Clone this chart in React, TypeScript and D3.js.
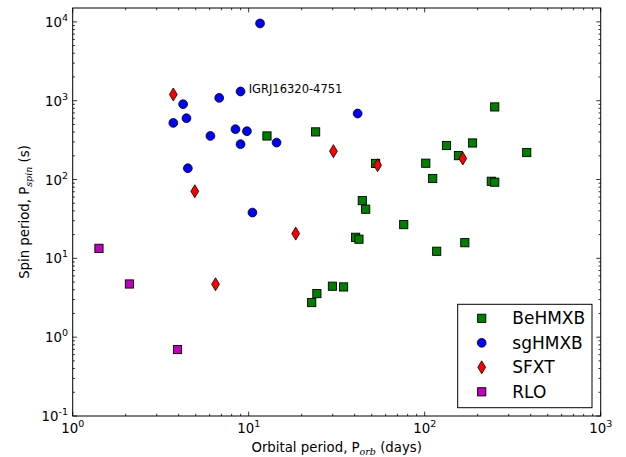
import React from "react";
import * as d3 from "d3";

const beOrb = [12.7, 24.0, 250, 133, 187, 380, 155.5, 52.6, 101.4, 111, 239, 250, 44.2, 46.2, 76, 40.5, 42.3, 117, 169, 29.9, 34.6, 24.4, 22.8];
const beSpin = [357, 402, 834, 270, 291, 220, 201, 160, 161, 103, 95, 92.5, 54, 42, 26.8, 18.5, 17.5, 12.3, 15.8, 4.43, 4.34, 3.57, 2.75];

const sgOrb = [11.6, 4.24, 3.73, 4.43, 6.8, 8.99, 6.06, 8.41, 9.77, 8.99, 14.4, 4.51, 10.5, 41.6];
const sgSpin = [9550, 903, 523, 600, 1086, 1309, 357, 435, 410, 281, 294, 139, 38.1, 688];

const sfOrb = [3.73, 4.94, 30.3, 54.0, 164.6, 18.5, 6.48];
const sfSpin = [1200, 71, 229, 152, 185, 20.6, 4.69];

const rloOrb = [1.41, 2.1, 3.94];
const rloSpin = [13.4, 4.73, 0.697];

const seriesNames = ["BeHMXB", "sgHMXB", "SFXT", "RLO"];
const seriesColors = ["#008000", "#0000ff", "#ff0000", "#bf00bf"];
const seriesShapes = ["square", "circle", "diamond", "square"];

const annotationText = "IGRJ16320-4751";
const annotationX = 10;
const annotationY = 1250;

const xTickExp = [0, 1, 2, 3];
const yTickExp = [-1, 0, 1, 2, 3, 4];

const W = 626;
const H = 457;
const left = 72.7;
const right = 600.7;
const top = 8;
const bottom = 416;

function Marker({ shape, cx, cy, color }: { shape: string; cx: number; cy: number; color: string }) {
  if (shape === "circle") {
    return <circle cx={cx} cy={cy} r={4.4} fill={color} stroke="#000" strokeWidth={0.8} />;
  }
  if (shape === "square") {
    const s = 8.2;
    return <rect x={cx - s / 2} y={cy - s / 2} width={s} height={s} fill={color} stroke="#000" strokeWidth={0.9} />;
  }
  const hw = 3.9;
  const hh = 6.5;
  return (
    <path
      d={`M${cx},${cy - hh}L${cx + hw},${cy}L${cx},${cy + hh}L${cx - hw},${cy}Z`}
      fill={color}
      stroke="#000"
      strokeWidth={0.8}
    />
  );
}

export default function App() {
  const x = d3.scaleLog().domain([1, 1000]).range([left, right]);
  const y = d3.scaleLog().domain([0.1, 15000]).range([bottom, top]);

  const series = [
    { xs: beOrb, ys: beSpin },
    { xs: sgOrb, ys: sgSpin },
    { xs: sfOrb, ys: sfSpin },
    { xs: rloOrb, ys: rloSpin },
  ];

  const xTicks = x.ticks();
  const yTicks = y.ticks().filter((v) => v <= 15000);
  const isMajor = (v: number) => Math.abs(Math.log10(v) - Math.round(Math.log10(v))) < 1e-9;

  const font = "DejaVu Sans, sans-serif";
  const legendX = 457.7;
  const legendY = 304.3;
  const legendW = 134.3;
  const legendH = 103.4;

  return (
    <svg
      width={W}
      height={H}
      style={{ position: "absolute", left: 0, top: 0, background: "#fff" }}
      fontFamily={font}
    >
      <rect x={0} y={0} width={W} height={H} fill="#fff" />
      {/* ticks */}
      {xTicks.map((v, i) => {
        const len = isMajor(v) ? 4.4 : 2.2;
        const px = x(v);
        return (
          <g key={"xt" + i} stroke="#000" strokeWidth={0.8}>
            <line x1={px} x2={px} y1={bottom} y2={bottom - len} />
            <line x1={px} x2={px} y1={top} y2={top + len} />
          </g>
        );
      })}
      {yTicks.map((v, i) => {
        const len = isMajor(v) ? 4.4 : 2.2;
        const py = y(v);
        return (
          <g key={"yt" + i} stroke="#000" strokeWidth={0.8}>
            <line x1={left} x2={left + len} y1={py} y2={py} />
            <line x1={right} x2={right - len} y1={py} y2={py} />
          </g>
        );
      })}
      {/* data */}
      {series.map((s, si) =>
        s.xs.map((xv, i) => (
          <Marker key={si + "-" + i} shape={seriesShapes[si]} cx={x(xv)} cy={y(s.ys[i])} color={seriesColors[si]} />
        ))
      )}
      <text x={x(annotationX)} y={y(annotationY)} fontSize={11.5} fill="#000">
        {annotationText}
      </text>
      {/* frame */}
      <rect x={left} y={top} width={right - left} height={bottom - top} fill="none" stroke="#000" strokeWidth={1} />
      {/* x tick labels */}
      {xTickExp.map((e) => (
        <text key={"xl" + e} x={x(Math.pow(10, e))} y={433} fontSize={13.3} textAnchor="middle" fill="#000">
          10
          <tspan fontSize={9.5} dy={-6}>
            {String(e)}
          </tspan>
        </text>
      ))}
      {yTickExp.map((e) => (
        <text key={"yl" + e} x={68} y={y(Math.pow(10, e)) + 5} fontSize={13.3} textAnchor="end" fill="#000">
          10
          <tspan fontSize={9.5} dy={-6}>
            {e < 0 ? "-" + Math.abs(e) : String(e)}
          </tspan>
        </text>
      ))}
      {/* axis labels */}
      <text x={(left + right) / 2} y={452} fontSize={13.3} textAnchor="middle" fill="#000">
        Orbital period, P
        <tspan fontSize={9.5} fontStyle="italic" fontFamily="DejaVu Serif, serif" dy={3}>
          orb
        </tspan>
        <tspan dy={-3}> (days)</tspan>
      </text>
      <text
        transform={`translate(28.5,${(top + bottom) / 2}) rotate(-90)`}
        fontSize={13.3}
        textAnchor="middle"
        fill="#000"
      >
        Spin period, P
        <tspan fontSize={9.5} fontStyle="italic" fontFamily="DejaVu Serif, serif" dy={3}>
          spin
        </tspan>
        <tspan dy={-3}> (s)</tspan>
      </text>
      {/* legend */}
      <rect x={legendX} y={legendY} width={legendW} height={legendH} fill="#fff" stroke="#000" strokeWidth={1} />
      {seriesNames.map((name, i) => {
        const cy = legendY + 14 + i * 24.5;
        return (
          <g key={"lg" + i}>
            <Marker shape={seriesShapes[i]} cx={481.7} cy={cy} color={seriesColors[i]} />
            <text x={512.3} y={cy + 6} fontSize={17} fill="#000">
              {name}
            </text>
          </g>
        );
      })}
    </svg>
  );
}
